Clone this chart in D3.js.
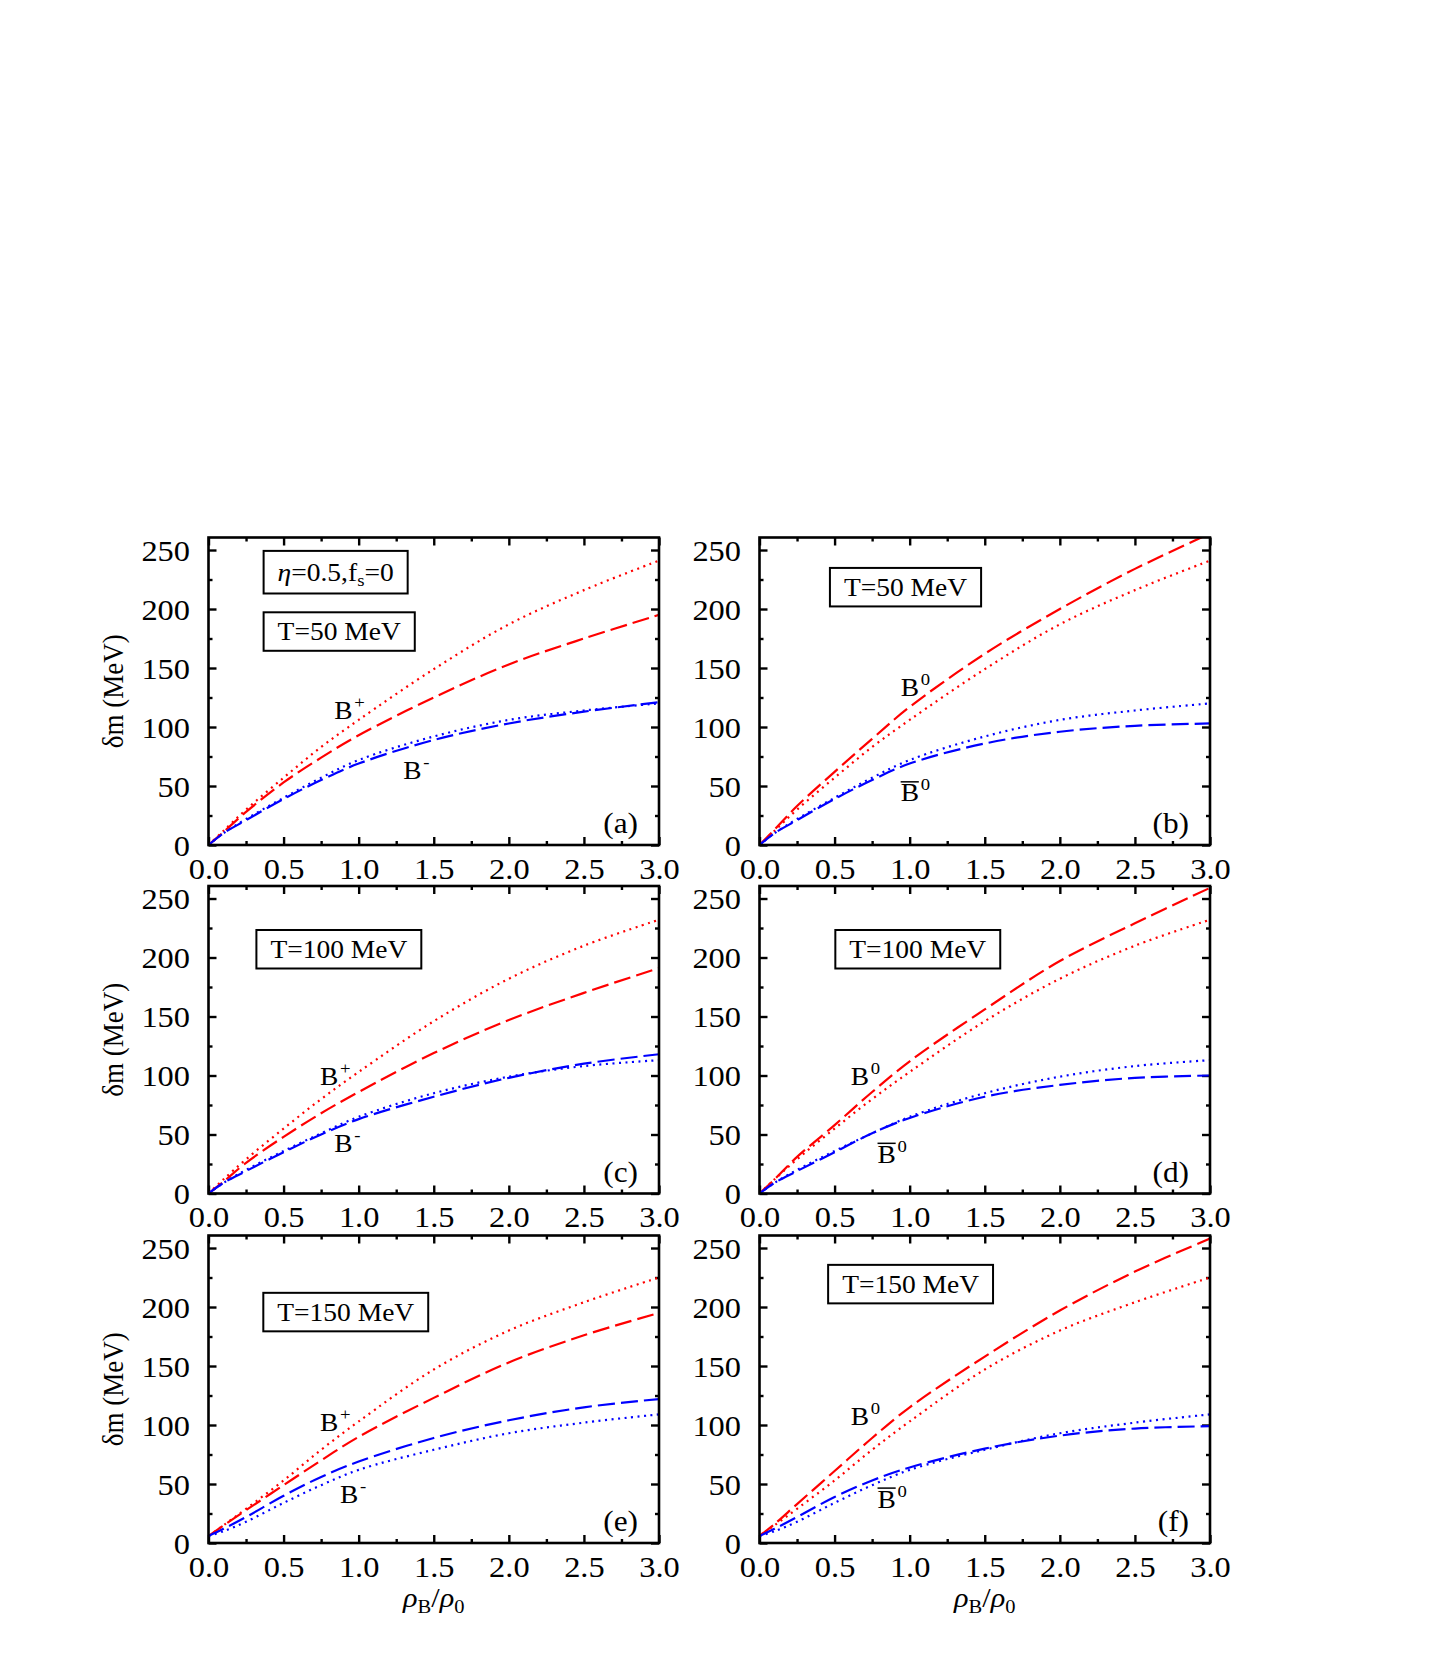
<!DOCTYPE html>
<html>
<head>
<meta charset="utf-8">
<script src="https://cdn.jsdelivr.net/npm/d3@7"></script>
<style>
  html, body { margin: 0; padding: 0; background: #fff; }
  svg { display: block; font-family: "Liberation Serif", "Times New Roman", serif; }
</style>
</head>
<body>
<svg id="chart" width="1449" height="1656"></svg>
<script>
// ---------------- data ----------------
const rho = [0, 0.1, 0.25, 0.5, 0.75, 1.0, 1.5, 2.0, 2.5, 3.0];

const xTickValues = [0, 0.5, 1.0, 1.5, 2.0, 2.5, 3.0];
const xMinorValues = [0.25, 0.75, 1.25, 1.75, 2.25, 2.75];
const yTickValues = [0, 50, 100, 150, 200, 250];
const yMinorValues = [25, 75, 125, 175, 225];

// T = 50 MeV
const dotRed50    = [0, 12, 30, 57, 83, 106, 149, 187, 216, 241];
const dotBlue50   = [0, 10, 22, 40, 57, 72, 92, 106, 114, 120];
const dashBplus50 = [0, 11, 28, 53, 74, 93, 125, 153, 175, 195];
const dashBminus50= [0, 10, 21, 39, 55, 69, 89, 103, 113, 121];
const dashB0_50   = [0, 13, 33, 62, 90, 117, 162, 200, 234, 264];
const dashB0bar50 = [0, 10, 21, 39, 55, 69, 86, 96, 101, 103];

// T = 100 MeV
const dotRed100    = [0, 12, 29, 55, 80, 103, 146, 182, 210, 232];
const dotBlue100   = [0, 9, 20, 36, 51, 65, 85, 99, 108, 113];
const dashBplus100 = [0, 10, 26, 48, 68, 86, 119, 147, 170, 191];
const dashBminus100= [0, 9, 19, 35, 50, 63, 82, 98, 110, 118];
const dashB0_100   = [0, 12, 31, 58, 86, 112, 156, 197, 229, 259];
const dashB0bar100 = [0, 9, 19, 35, 51, 64, 82, 92, 98, 100];

// T = 150 MeV
const dotRed150    = [6, 15, 29, 53, 79, 103, 147, 180, 204, 225];
const dotBlue150   = [6, 10, 18, 34, 49, 62, 79, 93, 102, 109];
const dashBplus150 = [6, 14.8, 27.8, 49, 70, 90, 123, 153, 176, 195];
const dashBminus150= [6, 12, 22, 40, 56, 69, 89, 104, 115, 122];
const dashB0_150   = [6, 16, 33, 61, 89, 115, 158, 197, 230, 258];
const dashB0bar150 = [6, 12, 22, 39, 53, 64, 80, 91, 97, 99];

const panelLetters = ["(a)", "(b)", "(c)", "(d)", "(e)", "(f)"];
const tempLabels = ["T=50 MeV", "T=50 MeV", "T=100 MeV", "T=100 MeV", "T=150 MeV", "T=150 MeV"];

// ---------------- layout ----------------
const colLeft = [208.5, 759.5];
const rowTop = [537.5, 886, 1235.5];
const PW = 450.5, PH = 307.5;
const YMAX = 260.6;
const RED = "#ff0000", BLUE = "#0000ff";
const SX = 1.08;

const panels = [
  { col: 0, row: 0, redDash: dashBplus50, redDot: dotRed50, blueDash: dashBminus50, blueDot: dotBlue50,
    box: { x: 0.367, y: 180.9 }, etaBox: { x: 0.367, y: 231.2 },
    upper: { x: 0.838, y: 107, sup: "+", bar: false }, lower: { x: 1.297, y: 56, sup: "-", bar: false } },
  { col: 1, row: 0, redDash: dashB0_50, redDot: dotRed50, blueDash: dashB0bar50, blueDot: dotBlue50,
    box: { x: 0.469, y: 218.5 },
    upper: { x: 0.94, y: 126, sup: "0", bar: false }, lower: { x: 0.94, y: 37, sup: "0", bar: true } },
  { col: 0, row: 1, redDash: dashBplus100, redDot: dotRed100, blueDash: dashBminus100, blueDot: dotBlue100,
    box: { x: 0.319, y: 207 },
    upper: { x: 0.742, y: 92, sup: "+", bar: false }, lower: { x: 0.838, y: 35, sup: "-", bar: false } },
  { col: 1, row: 1, redDash: dashB0_100, redDot: dotRed100, blueDash: dashB0bar100, blueDot: dotBlue100,
    box: { x: 0.505, y: 207 },
    upper: { x: 0.607, y: 92, sup: "0", bar: false }, lower: { x: 0.786, y: 26, sup: "0", bar: true } },
  { col: 0, row: 2, redDash: dashBplus150, redDot: dotRed150, blueDash: dashBminus150, blueDot: dotBlue150,
    box: { x: 0.365, y: 195.7 },
    upper: { x: 0.742, y: 95, sup: "+", bar: false }, lower: { x: 0.876, y: 34, sup: "-", bar: false } },
  { col: 1, row: 2, redDash: dashB0_150, redDot: dotRed150, blueDash: dashB0bar150, blueDot: dotBlue150,
    box: { x: 0.457, y: 219.4 },
    upper: { x: 0.607, y: 100, sup: "0", bar: false }, lower: { x: 0.786, y: 30, sup: "0", bar: true } }
];

const svg = d3.select("#chart");
svg.append("rect").attr("width", 1449).attr("height", 1656).attr("fill", "#fff");
const defs = svg.append("defs");

function styleAxis(g) {
  g.select(".domain").remove();
  g.selectAll(".tick line").attr("stroke", "#000").attr("stroke-width", 2.4);
}

panels.forEach((p, i) => {
  const L = colLeft[p.col], T = rowTop[p.row];
  const x = d3.scaleLinear().domain([0, 3]).range([L, L + PW]);
  const y = d3.scaleLinear().domain([0, YMAX]).range([T + PH, T]);
  const g = svg.append("g");

  const clipId = "clip" + i;
  defs.append("clipPath").attr("id", clipId).append("rect")
    .attr("x", L).attr("y", T).attr("width", PW).attr("height", PH);

  // minor ticks
  [["axisBottom", T + PH], ["axisTop", T]].forEach(([fn, pos]) => {
    g.append("g").attr("transform", `translate(0,${pos})`)
      .call(d3[fn](x).tickValues(xMinorValues).tickSizeInner(-4).tickSizeOuter(0).tickFormat(""))
      .call(styleAxis);
  });
  [["axisLeft", L], ["axisRight", L + PW]].forEach(([fn, pos]) => {
    g.append("g").attr("transform", `translate(${pos},0)`)
      .call(d3[fn](y).tickValues(yMinorValues).tickSizeInner(-4).tickSizeOuter(0).tickFormat(""))
      .call(styleAxis);
  });

  // major ticks
  const xb = g.append("g").attr("transform", `translate(0,${T + PH})`)
    .call(d3.axisBottom(x).tickValues(xTickValues).tickSizeInner(-8).tickSizeOuter(0).tickFormat(d3.format(".1f")))
    .call(styleAxis);
  xb.selectAll("text").attr("y", 34).attr("dy", null).attr("font-size", 30)
    .attr("font-family", "Liberation Serif").attr("fill", "#000")
    .attr("transform", `scale(${SX},1)`);
  g.append("g").attr("transform", `translate(0,${T})`)
    .call(d3.axisTop(x).tickValues(xTickValues).tickSizeInner(-8).tickSizeOuter(0).tickFormat(""))
    .call(styleAxis);
  const yl = g.append("g").attr("transform", `translate(${L},0)`)
    .call(d3.axisLeft(y).tickValues(yTickValues).tickSizeInner(-8).tickSizeOuter(0).tickFormat(d3.format("d")))
    .call(styleAxis);
  yl.selectAll("text").attr("x", -18.5 / SX).attr("dy", "0.34em").attr("font-size", 30)
    .attr("font-family", "Liberation Serif").attr("fill", "#000")
    .attr("transform", `scale(${SX},1)`);
  g.append("g").attr("transform", `translate(${L + PW},0)`)
    .call(d3.axisRight(y).tickValues(yTickValues).tickSizeInner(-8).tickSizeOuter(0).tickFormat(""))
    .call(styleAxis);

  // curves
  const line = d3.line().x(d => x(d[0])).y(d => y(d[1])).curve(d3.curveCatmullRom.alpha(0.5));
  const curves = g.append("g").attr("clip-path", `url(#${clipId})`);
  const series = [
    { v: p.redDot, c: RED, dash: "2,4.5" },
    { v: p.blueDot, c: BLUE, dash: "2,4.5" },
    { v: p.redDash, c: RED, dash: "17,6" },
    { v: p.blueDash, c: BLUE, dash: "17,6" }
  ];
  series.forEach(s => {
    curves.append("path").datum(rho.map((r, k) => [r, s.v[k]]))
      .attr("d", line).attr("fill", "none").attr("stroke", s.c)
      .attr("stroke-width", 2.2).attr("stroke-dasharray", s.dash);
  });

  // frame
  g.append("rect").attr("x", L).attr("y", T).attr("width", PW).attr("height", PH)
    .attr("fill", "none").attr("stroke", "#000").attr("stroke-width", 2.6);

  // panel letter
  g.append("g").attr("transform", `translate(${L + PW - 21},${T + PH - 12}) scale(${SX},1)`)
    .append("text").attr("text-anchor", "end").attr("font-size", 29).text(panelLetters[i]);

  // boxes
  function boxed(bx, by, h, build) {
    const bg = g.append("g");
    const inner = bg.append("g").attr("transform", `translate(${x(bx) + 14},${y(by) + 8.5}) scale(1.1,1)`);
    const t = inner.append("text").attr("font-size", 25);
    build(t);
    const bb = bg.node().getBBox();
    bg.insert("rect", ":first-child").attr("x", x(bx)).attr("y", y(by) - h / 2)
      .attr("width", bb.width + 28).attr("height", h)
      .attr("fill", "#fff").attr("stroke", "#000").attr("stroke-width", 2);
  }
  boxed(p.box.x, p.box.y, 38.5, t => t.text(tempLabels[i]));
  if (p.etaBox) {
    boxed(p.etaBox.x, p.etaBox.y, 42.6, t => {
      t.append("tspan").attr("font-style", "italic").text("η");
      t.append("tspan").text("=0.5,f");
      t.append("tspan").attr("font-size", 17).attr("dy", 5).text("s");
      t.append("tspan").attr("dy", -5).text("=0");
    });
  }

  // curve labels
  function bLabel(lb) {
    const lg = g.append("g").attr("transform", `translate(${x(lb.x)},${y(lb.y)}) scale(1.1,1)`);
    const t = lg.append("text").attr("font-size", 25);
    t.append("tspan").text("B");
    t.append("tspan").attr("font-size", 17).attr("dy", -11).attr("dx", 1.5).text(lb.sup);
    if (lb.bar) {
      lg.append("line").attr("x1", 0).attr("x2", 16.5).attr("y1", -19.5).attr("y2", -19.5)
        .attr("stroke", "#000").attr("stroke-width", 1.5);
    }
  }
  bLabel(p.upper);
  bLabel(p.lower);
});

// y axis titles (left column)
rowTop.forEach(T => {
  svg.append("g").attr("transform", `translate(123,${T + PH / 2}) scale(1.1,1) rotate(-90)`)
    .append("text").attr("text-anchor", "middle").attr("font-size", 27).text("δm (MeV)");
});

// x axis titles (bottom row)
colLeft.forEach(L => {
  const tg = svg.append("g").attr("transform", `translate(${L + PW / 2},1607) scale(1.08,1)`);
  const t = tg.append("text").attr("text-anchor", "middle").attr("font-size", 28);
  t.append("tspan").attr("font-style", "italic").text("ρ");
  t.append("tspan").attr("font-size", 19).attr("dy", 6).text("B");
  t.append("tspan").attr("dy", -6).text("/");
  t.append("tspan").attr("font-style", "italic").text("ρ");
  t.append("tspan").attr("font-size", 19).attr("dy", 6).text("0");
});
</script>
</body>
</html>
